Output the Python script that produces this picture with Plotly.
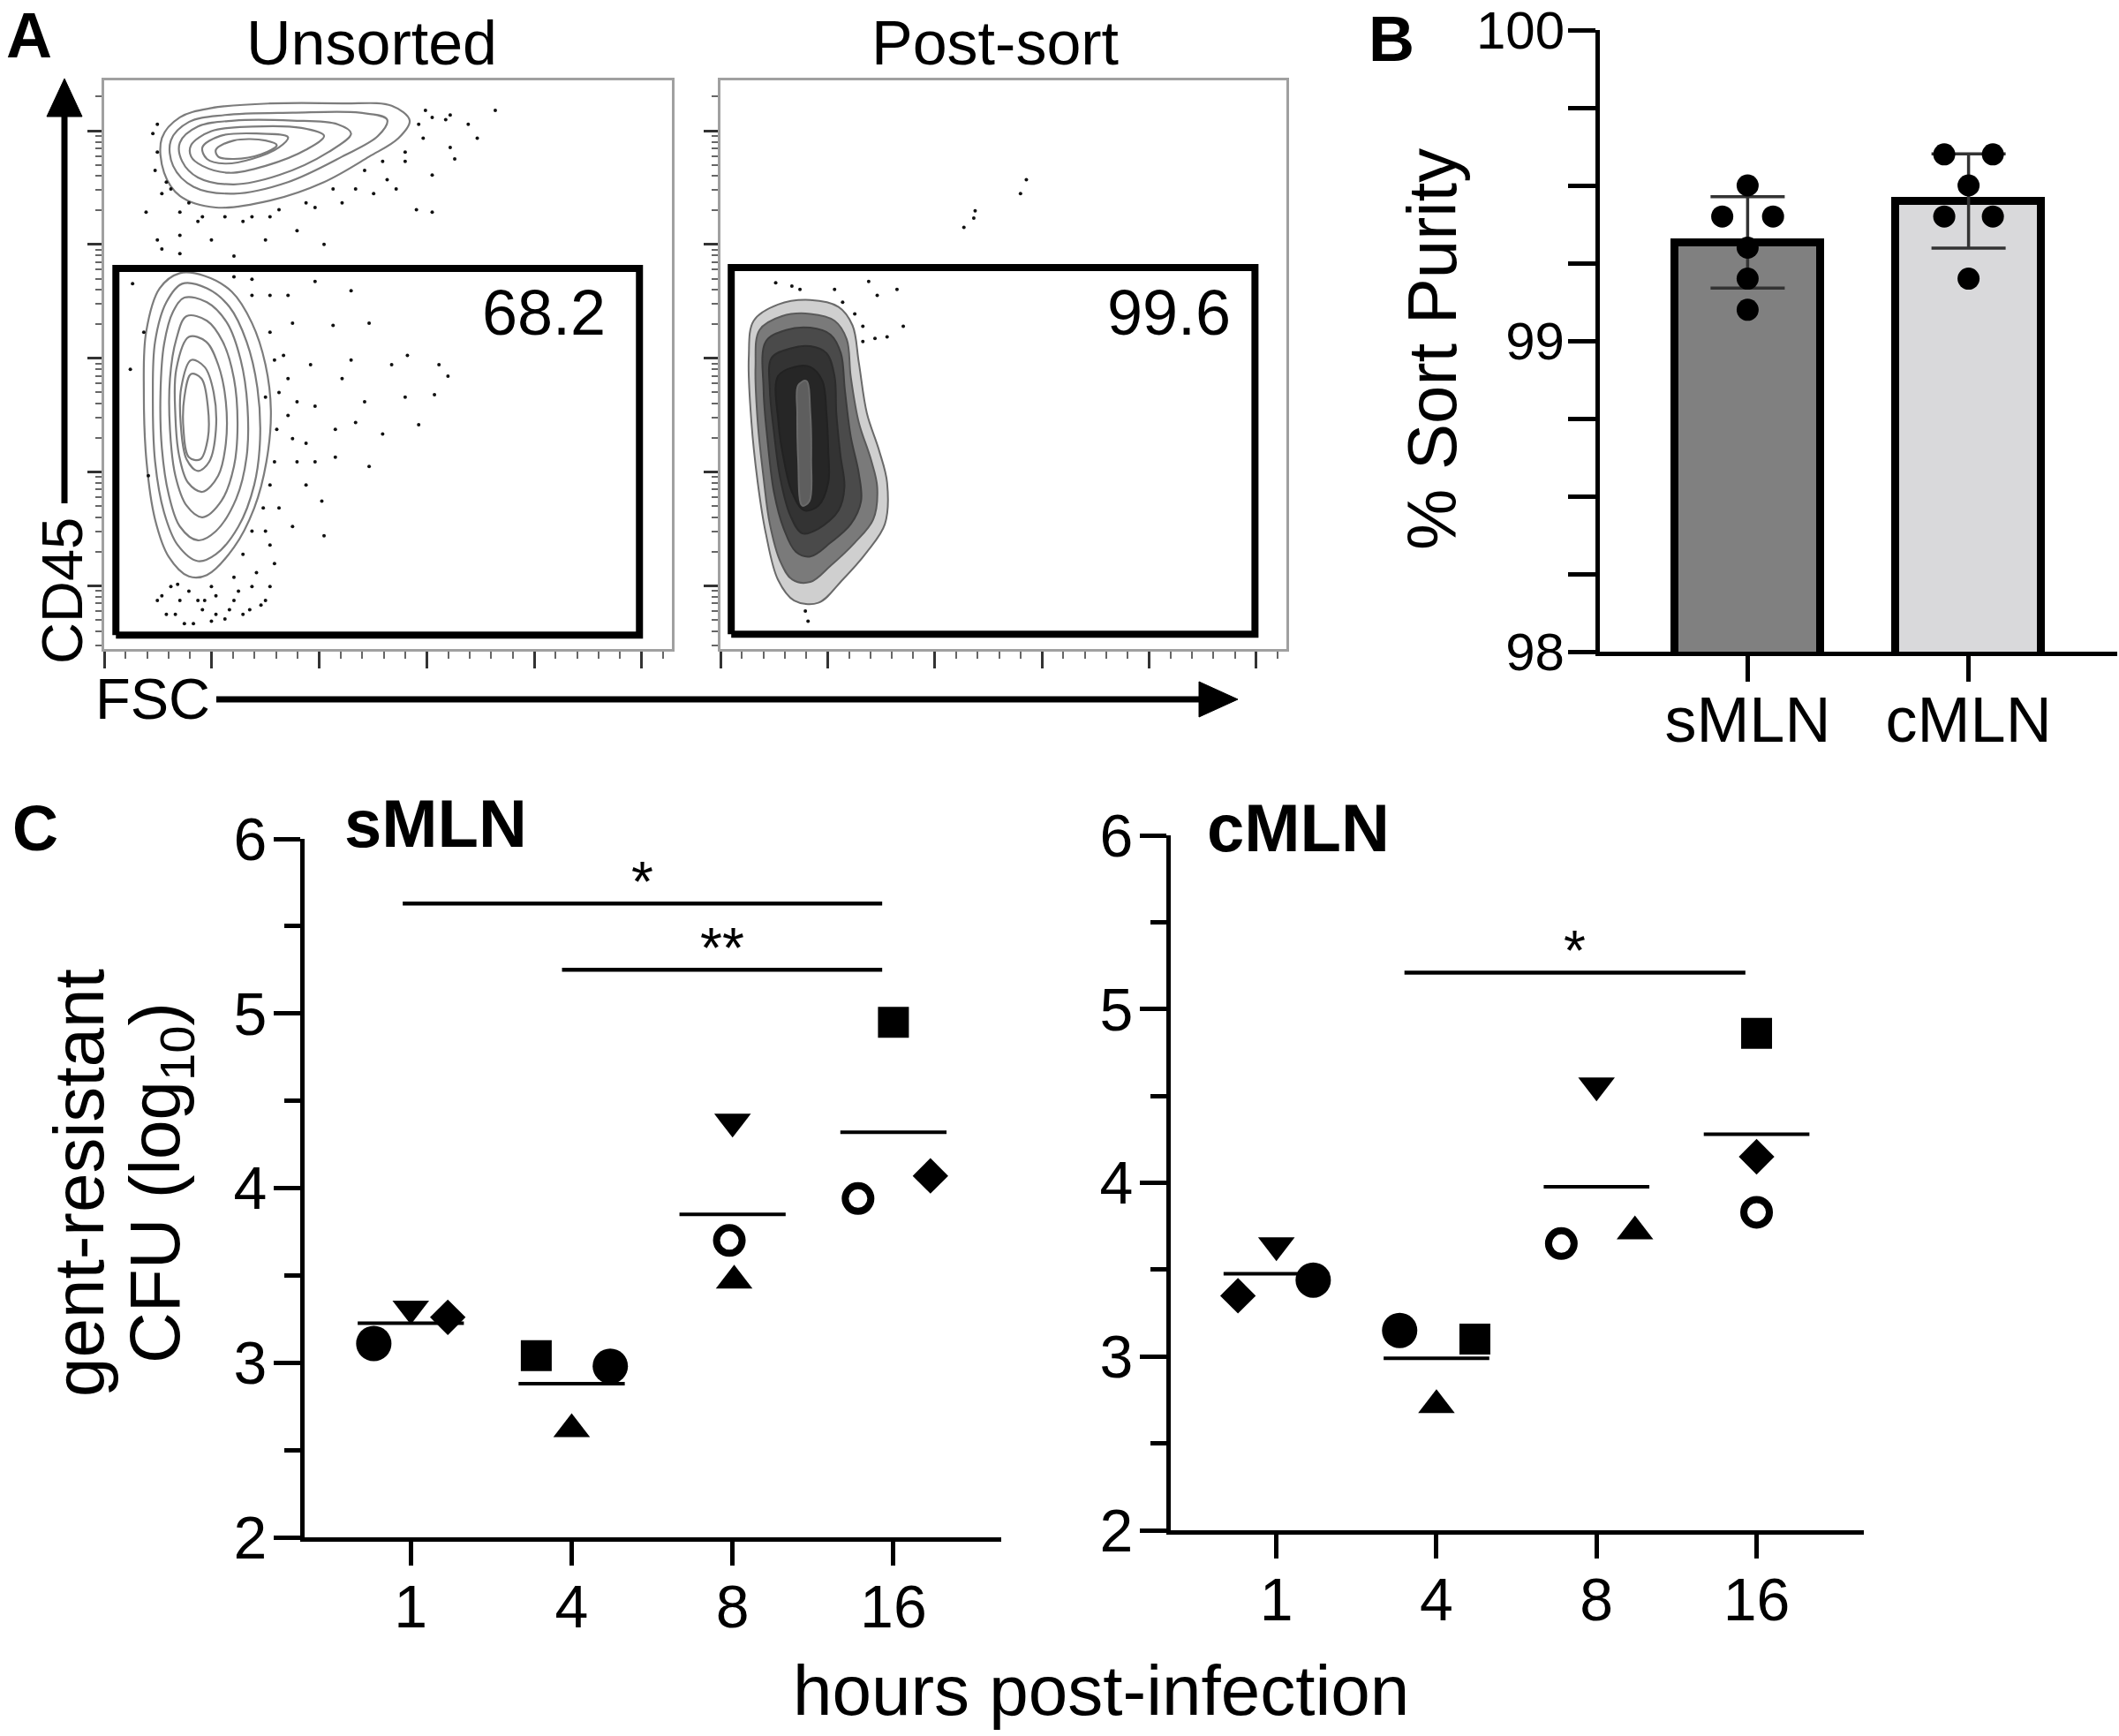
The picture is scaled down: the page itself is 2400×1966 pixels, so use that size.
import math
import statistics
import plotly.graph_objects as go

W, H = 2400, 1966
FONT = "Liberation Sans, Arial, sans-serif"

# ---------------- Panel A: flow cytometry (FSC vs CD45, display channel units) ----------------
# frame spans FSC 0..1260, CD45 0..1230
unsorted_gate = [26, 1188, 30, 823]       # x0, x1, y0, y1
postsort_gate = [24, 1190, 32, 825]
gate_pct = ["68.2", "99.6"]
panel_titles = ["Unsorted", "Post-sort"]

unsorted_lower_rings = [
    [(168,813),(223,807),(283,773),(328,705),(358,615),(370,515),(360,405),(333,305),(288,220),(228,160),(188,157),(143,200),(113,280),(94,405),(88,555),(93,685),(123,780)],
    [(173,790),(228,780),(278,740),(316,665),(340,565),(346,455),(333,355),(298,265),(248,205),(208,190),(163,225),(133,295),(113,405),(108,545),(113,665),(138,750)],
    [(178,760),(228,750),(273,705),(303,625),(318,525),(316,415),(293,325),(248,255),(208,235),(168,265),(143,335),(128,435),(125,555),(133,660),(153,730)],
    [(183,720),(228,710),(263,665),(288,585),(296,485),(288,395),(260,320),(218,285),(183,310),(158,375),(146,475),(146,585),(160,670)],
    [(188,675),(226,665),(253,615),(270,535),(270,445),(253,375),(218,340),(186,360),(166,420),(158,505),(160,605)],
    [(193,625),(223,610),(243,555),(248,475),(233,405),(208,385),(183,410),(170,485),(171,565)],
    [(193,595),(216,585),(230,525),(230,455),(213,410),(188,415),(176,475),(178,545)],
]
unsorted_upper_rings = [
    [(128,1105),(168,1150),(238,1170),(368,1180),(528,1180),(638,1175),(678,1143),(653,1105),(588,1065),(488,1010),(368,970),(248,955),(168,980),(133,1030)],
    [(148,1100),(188,1140),(268,1155),(418,1160),(568,1160),(628,1145),(608,1110),(528,1065),(408,1010),(288,985),(198,1000),(153,1045)],
    [(168,1095),(208,1130),(288,1143),(418,1143),(518,1135),(548,1115),(498,1075),(388,1025),(288,1005),(208,1020),(173,1055)],
    [(193,1090),(238,1120),(328,1130),(438,1127),(488,1110),(448,1080),(358,1045),(278,1030),(218,1045),(193,1065)],
    [(218,1085),(258,1110),(338,1115),(408,1107),(388,1085),(328,1060),(268,1050),(228,1060)],
    [(248,1080),(288,1100),(358,1100),(383,1090),(348,1070),(288,1060),(253,1065)],
]
unsorted_events = [
    (108,1115),(118,1135),(138,1010),(148,995),(188,965),(208,925),(268,935),(328,935),(388,950),(448,965),
    (508,995),(558,995),(578,1035),(618,1055),(668,1075),(698,1135),(728,1150),(758,1145),(778,1060),(808,1135),
    (828,1105),(868,1165),(693,950),(728,945),(93,945),(118,885),(168,855),(288,850),(488,875),(428,905),
    (238,885),(358,885),(648,995),(713,1165),
    (128,985),(168,945),(218,935),(308,925),(368,935),(468,955),(528,965),(598,985),(628,1015),(668,1055),
    (708,1105),(728,1025),(768,1085),(768,1155),(118,1075),(113,1035),(168,895),(128,865),
    (63,790),(88,685),(328,800),(368,765),(418,705),(468,795),(508,700),(548,775),(548,625),(588,705),
    (638,615),(673,635),(743,615),(763,590),(733,550),(618,465),(558,490),(513,475),(468,525),(448,355),
    (483,320),(418,265),(368,225),(388,305),(418,455),(388,555),(398,635),(148,135),(168,105),(218,85),
    (288,105),(348,95),(368,135),(138,75),(198,55),(268,65),(308,75),(248,115),(338,165),(308,205),
    (358,255),(378,405),(408,505),(458,615),(528,585),(578,535),(488,245),(698,485),(668,545),(588,395),
    (58,605),(98,375),(378,185),(188,125),(328,135),(248,75),(428,405),(368,355),
    (128,115),(158,75),(178,55),(223,105),(238,60),(278,85),(298,125),(323,85),(358,105),(163,140),
    (238,135),(288,155),(118,105),(208,105),(368,685),(378,625),(358,545),(383,475),(353,305),(328,255),
    (408,585),(428,535),(448,445),(468,405),(513,415),(408,765),(328,765),(288,805),
]
postsort_rings = [
    [(74,710),(128,745),(200,755),(263,740),(294,700),(308,620),(326,510),(353,430),(371,360),(366,270),(326,210),(272,150),(218,100),(164,105),(128,150),(101,250),(83,360),(69,490),(63,630)],
    [(87,690),(137,720),(200,725),(254,710),(281,670),(290,590),(308,490),(335,410),(349,350),(340,280),(299,230),(245,180),(200,145),(160,150),(133,190),(110,270),(96,370),(83,490),(78,610)],
    [(101,665),(146,690),(200,695),(245,680),(268,640),(277,560),(290,460),(308,380),(313,320),(290,270),(245,230),(200,200),(168,210),(141,260),(119,340),(105,450),(96,560)],
    [(114,630),(155,650),(200,655),(236,640),(254,590),(258,510),(267,420),(276,350),(263,300),(218,260),(182,250),(155,290),(133,370),(119,470),(110,560)],
    [(128,590),(164,610),(200,610),(227,580),(236,510),(240,430),(240,360),(218,310),(186,300),(159,340),(141,410),(129,490)],
    [(173,570),(191,580),(200,510),(202,410),(198,320),(182,310),(173,410),(171,510)],
]
postsort_events = [
    (123,792),(159,785),(177,778),(254,778),(330,795),(349,765),(393,778),(272,750),(299,725),(317,698),
    (317,665),(344,672),(371,675),(407,698),(542,912),(564,932),(567,948),(668,985),(681,1015),(189,82),(195,60),
]

# ---------------- Panel B: sort purity ----------------
groups = ["sMLN", "cMLN"]
purity = [[99.5, 99.4, 99.4, 99.3, 99.2, 99.1],
          [99.6, 99.6, 99.5, 99.4, 99.4, 99.2]]
bar_colors = ["#808080", "#d9d9db"]
purity_ticks = [98, 99, 100]

# ---------------- Panel C: gent-resistant CFU (log10) ----------------
hours = ["1", "4", "8", "16"]
smln_cfu = [[3.11, 3.31, 3.26], [3.04, 2.62, 2.98], [4.38, 3.70, 3.47], [4.95, 3.94, 4.07]]
smln_sym = [["circle", "triangle-down", "diamond"], ["square", "triangle-up", "circle"],
            ["triangle-down", "circle-open", "triangle-up"], ["square", "circle-open", "diamond"]]
cmln_cfu = [[3.35, 3.64, 3.44], [3.15, 2.72, 3.10], [4.56, 3.65, 3.72], [4.86, 4.15, 3.83]]
cmln_sym = [["diamond", "triangle-down", "circle"], ["circle", "triangle-up", "square"],
            ["triangle-down", "circle-open", "triangle-up"], ["square", "diamond", "circle-open"]]
smln_sig = [(-0.05, 2.93, 5.63, "*"), (0.94, 2.93, 5.25, "**")]
cmln_sig = [(0.80, 2.93, 5.21, "*")]

# styling: horizontal spread of points inside a column
smln_jit = [[-0.23, 0, 0.23], [-0.22, 0, 0.24], [0, -0.02, 0.01], [0, -0.22, 0.23]]
cmln_jit = [[-0.24, 0, 0.23], [-0.23, 0, 0.24], [0, -0.22, 0.24], [0, 0, 0]]
purity_jit = [[0, -0.115, 0.115, 0, 0, 0], [-0.11, 0.11, 0, -0.11, 0.11, 0]]

# ------------------------------------------------------------------
def px(x):
    return x / W

def py(y):
    return 1 - y / H

fig = go.Figure()

def ring_trace(pts, xa, ya, color="#7c7c7c", width=2.2, fill=None):
    xs = [p[0] for p in pts] + [pts[0][0]]
    ys = [p[1] for p in pts] + [pts[0][1]]
    kw = {}
    if fill:
        kw = dict(fill="toself", fillcolor=fill)
    return go.Scatter(x=xs, y=ys, mode="lines", line=dict(color=color, width=width, shape="spline", smoothing=1.0),
                      xaxis=xa, yaxis=ya, showlegend=False, hoverinfo="skip", **kw)

def gate_trace(g, xa, ya):
    x0, x1, y0, y1 = g
    return go.Scatter(x=[x0, x1, x1, x0, x0], y=[y0, y0, y1, y1, y0], mode="lines",
                      line=dict(color="black", width=8), xaxis=xa, yaxis=ya, showlegend=False, hoverinfo="skip")

# unsorted
for r in unsorted_upper_rings + unsorted_lower_rings:
    fig.add_trace(ring_trace(r, "x", "y"))
fig.add_trace(go.Scatter(x=[p[0] for p in unsorted_events], y=[p[1] for p in unsorted_events], mode="markers",
                         marker=dict(color="#111", size=4, opacity=1), xaxis="x", yaxis="y",
                         showlegend=False, hoverinfo="skip"))
fig.add_trace(gate_trace(unsorted_gate, "x", "y"))

# post-sort
ps_fill = ["#cfcfcf", "#7a7a7a", "#4a4a4a", "#333333", "#262626", "#5e5e5e"]
ps_line = ["#6a6a6a", "#5a5a5a", "#3c3c3c", "#2c2c2c", "#222222", "#6a6a6a"]
for r, fc, lc in zip(postsort_rings, ps_fill, ps_line):
    fig.add_trace(ring_trace(r, "x2", "y2", color=lc, width=2, fill=fc))
fig.add_trace(go.Scatter(x=[p[0] for p in postsort_events], y=[p[1] for p in postsort_events], mode="markers",
                         marker=dict(color="#111", size=4, opacity=1), xaxis="x2", yaxis="y2",
                         showlegend=False, hoverinfo="skip"))
fig.add_trace(gate_trace(postsort_gate, "x2", "y2"))

# flow axis ticks (linear FSC, log CD45)
fsc_major = [0, 238.6, 477.2, 715.8, 954.4, 1193.0]
fsc_minor = [m + k * 47.72 for m in fsc_major for k in range(1, 5) if m + k * 47.72 < 1260]
dec0, dec = 137.0, 246.0
cd45_major = [dec0 + k * dec for k in range(5)]
cd45_minor = []
for k in range(-1, 5):
    for m in range(2, 10):
        v = dec0 + (k + math.log10(m)) * dec
        if 0 < v < 1230:
            cd45_minor.append(v)

def flow_x(dom, anchor):
    return dict(domain=dom, anchor=anchor, range=[0, 1260], showgrid=False, zeroline=False, showline=True, mirror=True,
                linecolor="#a0a0a0", linewidth=2.5, ticks="outside", tickmode="array", tickvals=fsc_major,
                ticklen=19, tickwidth=3, tickcolor="#333", showticklabels=False, automargin=False,
                minor=dict(tickmode="array", tickvals=fsc_minor, ticklen=8, tickwidth=2, tickcolor="#666", ticks="outside"))

def flow_y(dom, anchor):
    return dict(domain=dom, range=[0, 1230], anchor=anchor, showgrid=False, zeroline=False, showline=True, mirror=True,
                linecolor="#a0a0a0", linewidth=2.5, ticks="outside", tickmode="array", tickvals=cd45_major,
                ticklen=16, tickwidth=3, tickcolor="#333", showticklabels=False, automargin=False,
                minor=dict(tickmode="array", tickvals=cd45_minor, ticklen=7, tickwidth=2, tickcolor="#666", ticks="outside"))

# ---------------- Panel B traces ----------------
means_b = [statistics.mean(v) for v in purity]
sds_b = [statistics.stdev(v) for v in purity]
fig.add_trace(go.Bar(x=[0, 1], y=means_b, width=0.66, marker=dict(color=bar_colors, line=dict(color="black", width=9)),
                     error_y=dict(type="data", array=sds_b, visible=True, color="#333", thickness=3.5, width=42),
                     xaxis="x3", yaxis="y3", showlegend=False))
bx, by = [], []
for gi, vals in enumerate(purity):
    for j, v in enumerate(vals):
        bx.append(gi + purity_jit[gi][j])
        by.append(v)
fig.add_trace(go.Scatter(x=bx, y=by, mode="markers", marker=dict(color="black", size=25, opacity=1),
                         xaxis="x3", yaxis="y3", showlegend=False))

# ---------------- Panel C traces ----------------
sym_size = {"circle": 40, "square": 35, "diamond": 31, "triangle-up": 36, "triangle-down": 36, "circle-open": 29}

def cfu_traces(vals, syms, jit, sig, xa, ya):
    xs, ys, ss, sz, lw = [], [], [], [], []
    for i, grp in enumerate(vals):
        for j, v in enumerate(grp):
            xs.append(i + jit[i][j]); ys.append(v); ss.append(syms[i][j])
            sz.append(sym_size[syms[i][j]]); lw.append(8 if syms[i][j] == "circle-open" else 0)
    mx, my = [], []
    for i, grp in enumerate(vals):
        m = statistics.mean(grp)
        mx += [i - 0.33, i + 0.33, None]; my += [m, m, None]
    fig.add_trace(go.Scatter(x=mx, y=my, mode="lines", line=dict(color="black", width=4),
                             xaxis=xa, yaxis=ya, showlegend=False, hoverinfo="skip"))
    fig.add_trace(go.Scatter(x=xs, y=ys, mode="markers",
                             marker=dict(symbol=ss, size=sz, color="black", opacity=1,
                                         line=dict(color="black", width=lw)),
                             xaxis=xa, yaxis=ya, showlegend=False))
    sx, sy = [], []
    for x0, x1, y, lab in sig:
        sx += [x0, x1, None]; sy += [y, y, None]
        fig.add_annotation(x=(x0 + x1) / 2, y=y - 0.07, xref=xa, yref=ya, text=lab, showarrow=False,
                           yanchor="bottom", font=dict(family=FONT, size=64, color="black"))
    fig.add_trace(go.Scatter(x=sx, y=sy, mode="lines", line=dict(color="black", width=4.5),
                             xaxis=xa, yaxis=ya, showlegend=False, hoverinfo="skip"))

cfu_traces(smln_cfu, smln_sym, smln_jit, smln_sig, "x4", "y4")
cfu_traces(cmln_cfu, cmln_sym, cmln_jit, cmln_sig, "x5", "y5")

def c_x(dom, anchor):
    return dict(domain=dom, anchor=anchor, range=[-0.66, 3.67], showgrid=False, zeroline=False, showline=True,
                linecolor="black", linewidth=5, ticks="outside", ticklen=27, tickwidth=4.5, tickcolor="black",
                tickmode="array", tickvals=[0, 1, 2, 3], ticktext=hours, automargin=False, ticklabelstandoff=-12,
                ticklabeloverflow="allow", tickfont=dict(family=FONT, size=68, color="black"))

def c_y(dom, anchor):
    return dict(domain=dom, anchor=anchor, range=[2, 6], showgrid=False, zeroline=False, showline=True,
                linecolor="black", linewidth=5, ticks="outside", ticklen=30, tickwidth=4.5, tickcolor="black",
                tickmode="array", tickvals=[2, 3, 4, 5, 6], tickfont=dict(family=FONT, size=68, color="black"),
                automargin=False, ticklabelstandoff=-6, ticklabeloverflow="allow",
                minor=dict(tickmode="array", tickvals=[2.5, 3.5, 4.5, 5.5], ticklen=18, tickwidth=4.5,
                           tickcolor="black", ticks="outside"))

layout = dict(
    width=W, height=H, margin=dict(l=0, r=0, t=0, b=0, pad=0, autoexpand=False),
    paper_bgcolor="white", plot_bgcolor="rgba(0,0,0,0)",
    font=dict(family=FONT, color="black"), showlegend=False, bargap=0,
    xaxis=flow_x([px(118), px(761)], "y"),
    yaxis=flow_y([py(735), py(91)], "x"),
    xaxis2=flow_x([px(816), px(1457)], "y2"),
    yaxis2=flow_y([py(735), py(91)], "x2"),
    xaxis3=dict(domain=[px(1812), px(2398)], anchor="y3", range=[-0.669, 1.673], showgrid=False, zeroline=False,
                showline=True, linecolor="black", linewidth=5, ticks="outside", ticklen=29, tickwidth=4.5,
                tickcolor="black", tickmode="array", tickvals=[0, 1], ticktext=groups, automargin=False,
                ticklabelstandoff=-18, ticklabeloverflow="allow", tickfont=dict(family=FONT, size=72, color="black")),
    yaxis3=dict(domain=[py(738), py(34)], anchor="x3", range=[98, 100], showgrid=False, zeroline=False,
                showline=True, linecolor="black", linewidth=5, ticks="outside", ticklen=31, tickwidth=4.5,
                tickcolor="black", tickmode="array", tickvals=purity_ticks, automargin=False, ticklabelstandoff=-8,
                ticklabeloverflow="allow", tickfont=dict(family=FONT, size=60, color="black"),
                minor=dict(tickmode="array", tickvals=[98.25, 98.5, 98.75, 99.25, 99.5, 99.75], ticklen=31,
                           tickwidth=4.5, tickcolor="black", ticks="outside")),
    xaxis4=c_x([px(345), px(1134)], "y4"),
    yaxis4=c_y([py(1741), py(950)], "x4"),
    xaxis5=c_x([px(1326), px(2111)], "y5"),
    yaxis5=c_y([py(1733), py(946)], "x5"),
)
fig.update_layout(**layout)

def note(text, x, y, size, bold=False, angle=0, xanchor="center"):
    if bold:
        text = "<b>" + text + "</b>"
    fig.add_annotation(x=px(x), y=py(y), xref="paper", yref="paper", text=text, showarrow=False,
                       textangle=angle, xanchor=xanchor, yanchor="middle",
                       font=dict(family=FONT, size=size, color="black"))

# panel letters
note("A", 33, 40, 72, bold=True)
note("B", 1576, 44, 72, bold=True)
note("C", 40, 938, 72, bold=True)
# panel A texts
note(panel_titles[0], 421, 49, 70)
note(panel_titles[1], 1127, 49, 70)
note(gate_pct[0], 616, 354, 72)
note(gate_pct[1], 1324, 354, 72)
note("CD45", 71, 669, 65, angle=-90)
note("FSC", 173, 791, 65)
# panel B
note("% Sort Purity", 1622, 396, 78, angle=-90)
# panel C
note("sMLN", 493, 933, 76, bold=True)
note("cMLN", 1470, 937, 76, bold=True)
note("gent-resistant", 89, 1340, 80, angle=-90)
note("CFU (log<sub>10</sub>)", 181, 1340, 80, angle=-90)
note("hours post-infection", 1247, 1914, 80)

# axis arrows of panel A
shapes = [
    dict(type="line", xref="paper", yref="paper", x0=px(73), x1=px(73), y0=py(570), y1=py(126),
         line=dict(color="black", width=7)),
    dict(type="path", xref="paper", yref="paper",
         path=f"M {px(53)} {py(132)} L {px(93)} {py(132)} L {px(73)} {py(89)} Z", fillcolor="black",
         line=dict(color="black", width=1)),
    dict(type="line", xref="paper", yref="paper", x0=px(245), x1=px(1364), y0=py(792), y1=py(792),
         line=dict(color="black", width=7)),
    dict(type="path", xref="paper", yref="paper",
         path=f"M {px(1358)} {py(772)} L {px(1358)} {py(812)} L {px(1402)} {py(792)} Z", fillcolor="black",
         line=dict(color="black", width=1)),
]
fig.update_layout(shapes=shapes)

# place the figure at the page's top-left corner (no default body margin), no mode bar
fig.write_html("out.html", config={"displayModeBar": False},
               post_script="document.body.style.margin='0px';")
